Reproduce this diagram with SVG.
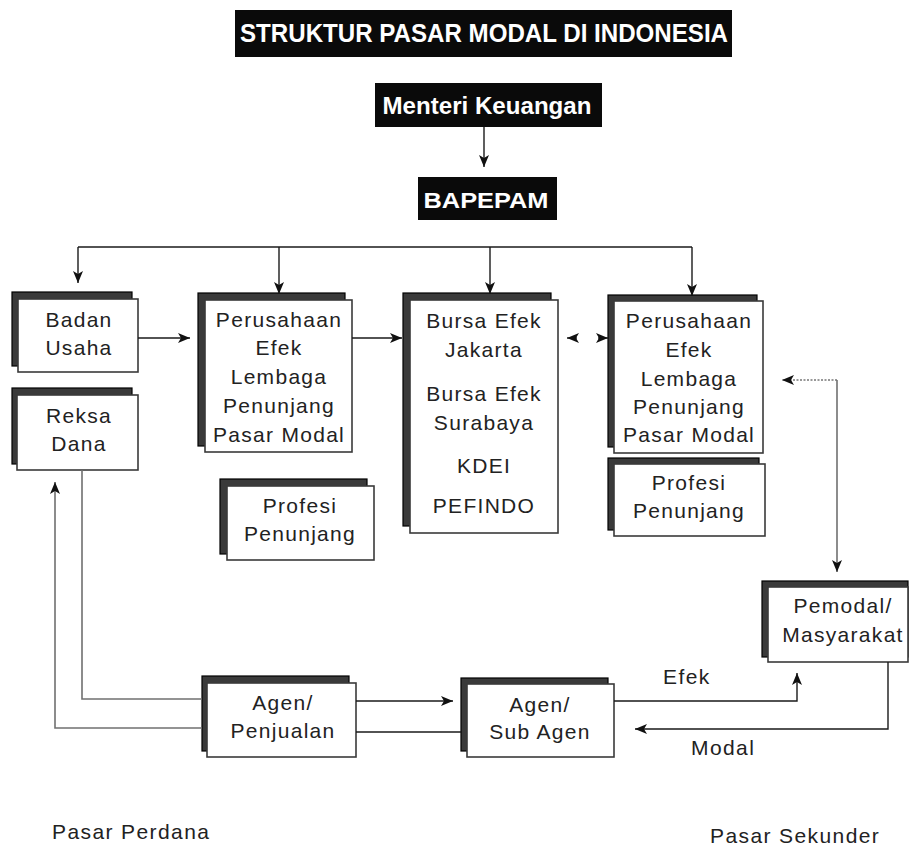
<svg xmlns="http://www.w3.org/2000/svg" width="912" height="851" viewBox="0 0 912 851">
<style>
.hdr{fill:#0a0a0a}
.ht{fill:#fff;font-family:"Liberation Sans",Arial,sans-serif;font-weight:bold;text-anchor:middle}
.back{fill:#3a3a3a;stroke:#000;stroke-width:1.2}
.front{fill:#fff;stroke:#3a3a3a;stroke-width:1.6}
.t{font-family:"Liberation Sans",Arial,sans-serif;font-size:21px;letter-spacing:1.3px;fill:#222;text-anchor:middle}
.lbl{font-family:"Liberation Sans",Arial,sans-serif;font-size:21px;letter-spacing:1.4px;fill:#222}
.c{fill:none;stroke:#1a1a1a;stroke-width:1.4}
.g{fill:none;stroke:#707070;stroke-width:1.6}
.d{fill:none;stroke:#333;stroke-width:1.2;stroke-dasharray:2 1.5}
</style>
<defs>
<marker id="ah" viewBox="0 0 12 10" refX="12" refY="5" markerWidth="12" markerHeight="10" markerUnits="userSpaceOnUse" orient="auto">
<path d="M0,0 L12,5 L0,10 L3,5 z" fill="#111"/>
</marker>
</defs>
<rect width="912" height="851" fill="#fff"/>

<g id="title">
<rect class="hdr" x="235" y="10" width="497" height="47"/>
<text class="ht" x="484" y="42" font-size="25" textLength="488" lengthAdjust="spacingAndGlyphs">STRUKTUR PASAR MODAL DI INDONESIA</text>
</g>
<g id="menteri">
<rect class="hdr" x="375" y="83" width="227" height="44"/>
<text class="ht" x="487" y="114" font-size="23" textLength="209" lengthAdjust="spacingAndGlyphs">Menteri Keuangan</text>
</g>
<g id="bapepam">
<rect class="hdr" x="418" y="177" width="139" height="43"/>
<text class="ht" x="486" y="208" font-size="22" textLength="125" lengthAdjust="spacingAndGlyphs">BAPEPAM</text>
</g>

<g id="badan-usaha">
<rect class="back" x="12" y="292" width="120" height="74"/>
<rect class="front" x="18" y="299" width="120" height="73"/>
<text class="t" x="79" y="327">Badan</text>
<text class="t" x="79" y="355">Usaha</text>
</g>
<g id="reksa-dana">
<rect class="back" x="12" y="388" width="120" height="76"/>
<rect class="front" x="17" y="395" width="121" height="75"/>
<text class="t" x="79" y="423">Reksa</text>
<text class="t" x="79" y="451">Dana</text>
</g>
<g id="perusahaan-efek-1">
<rect class="back" x="198" y="293" width="147" height="153"/>
<rect class="front" x="205" y="300" width="147" height="152"/>
<text class="t" x="279" y="327">Perusahaan</text>
<text class="t" x="279" y="355">Efek</text>
<text class="t" x="279" y="384">Lembaga</text>
<text class="t" x="279" y="413">Penunjang</text>
<text class="t" x="279" y="442">Pasar Modal</text>
</g>
<g id="profesi-1">
<rect class="back" x="220" y="479" width="147" height="75"/>
<rect class="front" x="227" y="486" width="147" height="74"/>
<text class="t" x="300" y="513">Profesi</text>
<text class="t" x="300" y="541">Penunjang</text>
</g>
<g id="bursa">
<rect class="back" x="403" y="293" width="148" height="233"/>
<rect class="front" x="410" y="300" width="148" height="233"/>
<text class="t" x="484" y="328">Bursa Efek</text>
<text class="t" x="484" y="357">Jakarta</text>
<text class="t" x="484" y="401">Bursa Efek</text>
<text class="t" x="484" y="430">Surabaya</text>
<text class="t" x="484" y="473">KDEI</text>
<text class="t" x="484" y="513">PEFINDO</text>
</g>
<g id="perusahaan-efek-2">
<rect class="back" x="608" y="295" width="149" height="152"/>
<rect class="front" x="614" y="301" width="149" height="152"/>
<text class="t" x="689" y="328">Perusahaan</text>
<text class="t" x="689" y="357">Efek</text>
<text class="t" x="689" y="386">Lembaga</text>
<text class="t" x="689" y="414">Penunjang</text>
<text class="t" x="689" y="442">Pasar Modal</text>
</g>
<g id="profesi-2">
<rect class="back" x="608" y="458" width="151" height="72"/>
<rect class="front" x="614" y="464" width="151" height="72"/>
<text class="t" x="689" y="490">Profesi</text>
<text class="t" x="689" y="518">Penunjang</text>
</g>
<g id="pemodal">
<rect class="back" x="762" y="581" width="146" height="76"/>
<rect class="front" x="768" y="587" width="140" height="75"/>
<text class="t" x="843" y="613">Pemodal/</text>
<text class="t" x="843" y="642">Masyarakat</text>
</g>
<g id="agen-penjualan">
<rect class="back" x="202" y="676" width="147" height="75"/>
<rect class="front" x="207" y="683" width="149" height="74"/>
<text class="t" x="283" y="710">Agen/</text>
<text class="t" x="283" y="738">Penjualan</text>
</g>
<g id="agen-sub-agen">
<rect class="back" x="461" y="678" width="147" height="73"/>
<rect class="front" x="467" y="684" width="147" height="73"/>
<text class="t" x="540" y="712">Agen/</text>
<text class="t" x="540" y="739">Sub Agen</text>
</g>

<g id="connectors">
<path class="c" d="M484,127 V167" marker-end="url(#ah)"/>
<path class="c" d="M78,247 H692"/>
<path class="c" d="M78,247 V283" marker-end="url(#ah)"/>
<path class="c" d="M279,247 V294" marker-end="url(#ah)"/>
<path class="c" d="M490,247 V294" marker-end="url(#ah)"/>
<path class="c" d="M692,247 V296" marker-end="url(#ah)"/>
<path class="c" d="M138,338 H190" marker-end="url(#ah)"/>
<path class="c" d="M352,338 H402" marker-end="url(#ah)"/>
<path class="c" d="M577,338 H567" stroke="none" marker-end="url(#ah)"/>
<path class="c" d="M598,338 H608" stroke="none" marker-end="url(#ah)"/>
<path class="d" d="M837,380 H782" marker-end="url(#ah)"/>
<path class="g" d="M837,380 V572" marker-end="url(#ah)"/>
<path class="g" d="M82,470 V699 H202"/>
<path class="g" d="M202,728 H55 V482" marker-end="url(#ah)"/>
<path class="c" d="M356,701 H453" marker-end="url(#ah)"/>
<path class="c" d="M356,732 H461"/>
<path class="c" d="M614,701 H797 V673" marker-end="url(#ah)"/>
<path class="c" d="M888,662 V729 H635" marker-end="url(#ah)"/>
</g>

<g id="labels">
<text class="lbl" x="663" y="684">Efek</text>
<text class="lbl" x="691" y="755">Modal</text>
<text class="lbl" x="52" y="839">Pasar Perdana</text>
<text class="lbl" x="710" y="843">Pasar Sekunder</text>
</g>
</svg>
